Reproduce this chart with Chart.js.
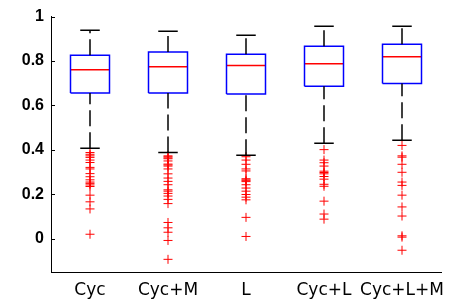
<!DOCTYPE html>
<html>
<head>
<meta charset="utf-8">
<script src="https://cdn.jsdelivr.net/npm/chart.js@4.4.1/dist/chart.umd.min.js"></script>
<style>
html,body{margin:0;padding:0;background:#fff;}
#c{display:block;}
</style>
</head>
<body>
<canvas id="c" width="460" height="304"></canvas>
<script>
const categories = ['Cyc', 'Cyc+M', 'L', 'Cyc+L', 'Cyc+L+M'];
const q1Values = [0.656, 0.656, 0.652, 0.686, 0.699];
const medianValues = [0.761, 0.774, 0.780, 0.788, 0.819];
const q3Values = [0.826, 0.841, 0.830, 0.867, 0.876];
const lowerWhisker = [0.407, 0.388, 0.376, 0.430, 0.443];
const upperWhisker = [0.939, 0.934, 0.916, 0.956, 0.956];
const outliersCyc = [0.388, 0.380, 0.373, 0.366, 0.354, 0.343, 0.321, 0.314, 0.293, 0.279, 0.265, 0.255, 0.249, 0.242, 0.235, 0.196, 0.166, 0.134, 0.020];
const outliersCycM = [0.373, 0.369, 0.364, 0.360, 0.350, 0.336, 0.332, 0.327, 0.314, 0.292, 0.273, 0.258, 0.243, 0.220, 0.214, 0.204, 0.192, 0.177, 0.158, 0.073, 0.049, 0.029, -0.008, -0.093];
const outliersL = [0.369, 0.354, 0.335, 0.314, 0.305, 0.270, 0.265, 0.261, 0.257, 0.243, 0.228, 0.214, 0.199, 0.187, 0.175, 0.096, 0.010];
const outliersCycL = [0.401, 0.354, 0.342, 0.327, 0.304, 0.298, 0.292, 0.280, 0.268, 0.245, 0.236, 0.169, 0.111, 0.088];
const outliersCycLM = [0.420, 0.373, 0.367, 0.335, 0.299, 0.255, 0.240, 0.196, 0.143, 0.102, 0.013, 0.007, -0.052];
const outlierSets = [outliersCyc, outliersCycM, outliersL, outliersCycL, outliersCycLM];
const yTicks = [0, 0.2, 0.4, 0.6, 0.8, 1];
const yMin = -0.15, yMax = 1;

const BOX_HALF = 0.25, CAP_HALF = 0.125;
const GAP = {x: null, y: null};

const boxPts = [], medPts = [], whiskPts = [], capPts = [], outPts = [];
categories.forEach((c, i) => {
  const x = i + 1;
  boxPts.push({x: x - BOX_HALF, y: q1Values[i]}, {x: x + BOX_HALF, y: q1Values[i]},
              {x: x + BOX_HALF, y: q3Values[i]}, {x: x - BOX_HALF, y: q3Values[i]},
              {x: x - BOX_HALF, y: q1Values[i]}, GAP);
  medPts.push({x: x - BOX_HALF, y: medianValues[i]}, {x: x + BOX_HALF, y: medianValues[i]}, GAP);
  whiskPts.push({x: x, y: lowerWhisker[i]}, {x: x, y: q1Values[i]}, GAP,
                {x: x, y: q3Values[i]}, {x: x, y: upperWhisker[i]}, GAP);
  capPts.push({x: x - CAP_HALF, y: lowerWhisker[i]}, {x: x + CAP_HALF, y: lowerWhisker[i]}, GAP,
              {x: x - CAP_HALF, y: upperWhisker[i]}, {x: x + CAP_HALF, y: upperWhisker[i]}, GAP);
  outlierSets[i].forEach(v => outPts.push({x: x, y: v}));
});

const lineDs = (data, color, dash) => ({
  type: 'scatter', data, showLine: true, spanGaps: false,
  borderColor: color, borderWidth: 1.5, borderDash: dash || [],
  pointRadius: 0, pointHoverRadius: 0, fill: false, tension: 0
});

const yTickMarks = {
  id: 'yTickMarks',
  afterDraw(chart) {
    const ys = chart.scales.y, ctx = chart.ctx;
    ctx.save();
    ctx.strokeStyle = '#000';
    ctx.lineWidth = 1;
    ctx.beginPath();
    ys.ticks.forEach(t => {
      const py = Math.round(ys.getPixelForValue(t.value)) + 0.5;
      ctx.moveTo(ys.right, py);
      ctx.lineTo(ys.right + 4, py);
    });
    ctx.stroke();
    ctx.restore();
  }
};

new Chart(document.getElementById('c'), {
  type: 'scatter',
  data: {
    datasets: [
      lineDs(whiskPts, '#000000', [16, 6]),
      lineDs(capPts, '#000000'),
      lineDs(boxPts, '#0000ff'),
      lineDs(medPts, '#ff0000'),
      {
        type: 'scatter', data: outPts, pointStyle: 'cross', pointRadius: 4.5,
        pointBorderColor: '#ff0000', borderColor: '#ff0000', pointBorderWidth: 1,
        pointHoverRadius: 4.5, showLine: false
      }
    ]
  },
  options: {
    responsive: false,
    animation: false,
    devicePixelRatio: 1,
    layout: {padding: {top: 12, right: 19, left: 0, bottom: 0}},
    plugins: {legend: {display: false}, tooltip: {enabled: false}},
    scales: {
      x: {
        type: 'linear', min: 0.5, max: 5.5,
        afterBuildTicks: s => { s.ticks = categories.map((c, i) => ({value: i + 1})); },
        afterFit: s => { s.height = 32; },
        grid: {display: true, drawOnChartArea: false, drawTicks: false},
        border: {display: true, color: '#000', width: 1},
        ticks: {
          callback: v => categories[Math.round(v) - 1],
          color: '#000', padding: 8, maxRotation: 0, autoSkip: false,
          font: {family: 'DejaVu Sans', size: 17}
        }
      },
      y: {
        type: 'linear', min: yMin, max: yMax,
        afterBuildTicks: s => { s.ticks = yTicks.map(v => ({value: v})); },
        afterFit: s => { s.width = 51; },
        grid: {display: true, drawOnChartArea: false, drawTicks: false},
        border: {display: true, color: '#000', width: 1},
        ticks: {
          callback: v => String(Math.round(v * 10) / 10),
          color: '#000', padding: 7,
          font: {family: 'Liberation Sans', size: 16, weight: 'bold'}
        }
      }
    }
  },
  plugins: [yTickMarks]
});
</script>
</body>
</html>
